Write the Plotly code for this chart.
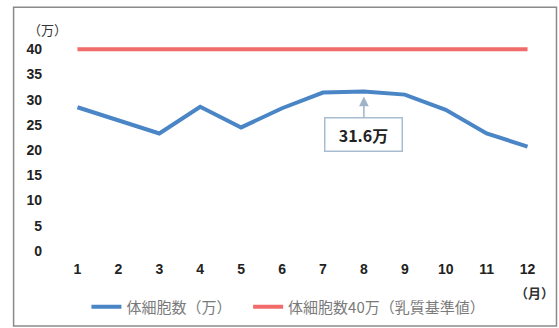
import plotly.graph_objects as go

months = list(range(1, 13))
month_labels = [str(m) for m in months]
scc = [28.5, 26.0, 23.3, 28.6, 24.5, 28.3, 31.4, 31.6, 31.0, 28.0, 23.3, 20.7]
standard = [40] * 12
y_ticks = [0, 5, 10, 15, 20, 25, 30, 35, 40]
peak_month = 8
peak_value = 31.6
peak_label = "31.6万"

W, H = 559, 328
L, R, T, B = 56.5, 10.5, 23.7, 77
pw, ph = W - L - R, H - T - B

def px(x):
    return (x - L) / pw

def py(y):
    return (H - B - y) / ph

cjk = "Noto Sans CJK JP"
legend_font = dict(family=cjk, size=15, color="#7a7a7a")

fig = go.Figure()
fig.add_trace(go.Scatter(x=months, y=scc, mode="lines", name="体細胞数（万）",
                         line=dict(color="#4A85C6", width=4), legend="legend"))
fig.add_trace(go.Scatter(x=months, y=standard, mode="lines", name="体細胞数40万（乳質基準値）",
                         line=dict(color="#F26B6B", width=4), legend="legend2"))

fig.update_layout(
    width=W, height=H,
    margin=dict(l=L, r=R, t=T, b=B, autoexpand=False),
    paper_bgcolor="white", plot_bgcolor="white",
    showlegend=True,
    legend=dict(orientation="h", x=px(86), xanchor="left", y=py(307), yanchor="middle",
                font=legend_font, itemwidth=30, bgcolor="rgba(0,0,0,0)"),
    legend2=dict(orientation="h", x=px(248), xanchor="left", y=py(307), yanchor="middle",
                 font=legend_font, itemwidth=30, bgcolor="rgba(0,0,0,0)"),
    xaxis=dict(type="linear", range=[0.5, 12.5], tickvals=months, ticktext=month_labels,
               showgrid=False, zeroline=False, showline=False, ticks="",
               ticklabelstandoff=8,
               tickfont=dict(family="Liberation Sans", size=14, color="#222", weight="bold")),
    yaxis=dict(range=[0, 45], tickvals=y_ticks, showgrid=False, zeroline=False,
               showline=False, ticks="", ticklabelstandoff=14,
               tickfont=dict(family="Liberation Sans", size=14, color="#222", weight="bold")),
)

fig.add_annotation(x=peak_month, y=peak_value, text=peak_label, showarrow=True,
                   ax=0, ay=43, axref="pixel", ayref="pixel",
                   arrowhead=2, arrowsize=1.3, arrowwidth=1.5, arrowcolor="#9FB4C9",
                   standoff=5,
                   font=dict(family=cjk, size=16, color="#222", weight="bold"),
                   bordercolor="#A9BDD0", borderwidth=1.5, borderpad=4,
                   bgcolor="white", width=68, height=24)

fig.add_annotation(xref="paper", yref="paper", x=px(47), y=py(29), text="（万）",
                   xanchor="center", yanchor="middle",
                   showarrow=False, font=dict(family=cjk, size=13, color="#333"))
fig.add_annotation(xref="paper", yref="paper", x=px(535), y=py(293), text="（月）",
                   xanchor="center", yanchor="middle",
                   showarrow=False, font=dict(family=cjk, size=13, color="#333", weight="bold"))

fig.add_shape(type="rect", xref="paper", yref="paper",
              x0=px(13), x1=px(557), y0=py(326), y1=py(7),
              line=dict(color="#8a8a8a", width=1.5), layer="below")

fig.write_html("out.html")
